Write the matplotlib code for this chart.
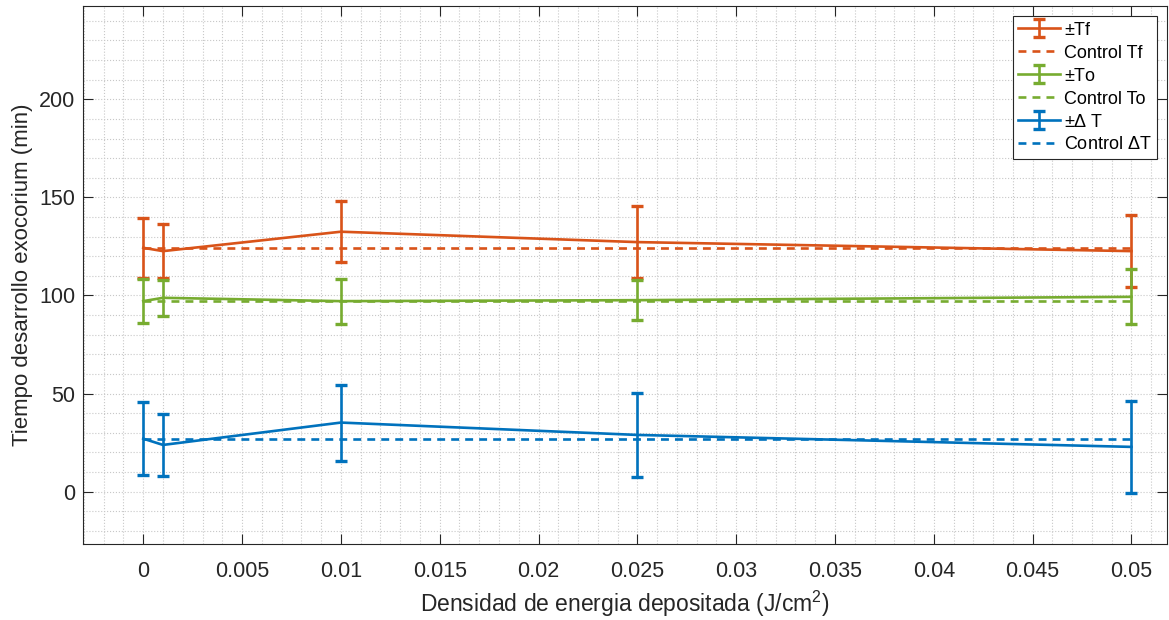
import numpy as np
import matplotlib.pyplot as plt
from matplotlib.ticker import MultipleLocator

plt.rcParams['font.family'] = ['Liberation Sans', 'DejaVu Sans']
plt.rcParams['mathtext.fontset'] = 'custom'
plt.rcParams['mathtext.rm'] = 'Liberation Sans'

# densidad de energia (J/cm2)
densidad = [0, 0.001, 0.01, 0.025, 0.05]

# tiempos medios y desviaciones (min)
tf = [124.3, 122.6, 132.5, 127.2, 122.6]
tf_err = [15.2, 13.8, 15.4, 18.4, 18.2]
to = [97.1, 98.8, 97.1, 97.6, 99.3]
to_err = [11.3, 9.2, 11.5, 10.2, 14.0]
dt = [27.0, 23.8, 35.2, 28.9, 22.8]
dt_err = [18.5, 16.0, 19.4, 21.6, 23.5]

# controles
control_tf = 124.3
control_to = 97.1
control_dt = 27.0

rojo = '#D95319'
verde = '#77AC30'
azul = '#0072BD'
gris = '#262626'

fig = plt.figure(figsize=(11.69, 6.2), dpi=100)
ax = fig.add_axes([0.0713, 0.1226, 0.927, 0.8672])

x_ctrl = [densidad[0], densidad[-1]]
series = [
    (tf, tf_err, control_tf, rojo, r'$\pm$Tf', 'Control Tf'),
    (to, to_err, control_to, verde, r'$\pm$To', 'Control To'),
    (dt, dt_err, control_dt, azul, r'$\pm\Delta$ T', r'Control $\Delta$T'),
]
handles = []
for y, err, ctrl, c, lab, lab_c in series:
    eb = ax.errorbar(densidad, y, yerr=err, color=c, lw=1.9, elinewidth=1.9,
                     capsize=4, capthick=2.4, label=lab)
    ln, = ax.plot(x_ctrl, [ctrl, ctrl], color=c, lw=1.9, dashes=(3.0, 2.3), label=lab_c)
    handles += [eb, ln]

ax.set_xlim(-0.00303, 0.0518)
ax.set_ylim(-26.7, 247.4)
ax.set_xticks([0, 0.005, 0.01, 0.015, 0.02, 0.025, 0.03, 0.035, 0.04, 0.045, 0.05])
ax.set_xticklabels(['0', '0.005', '0.01', '0.015', '0.02', '0.025', '0.03',
                    '0.035', '0.04', '0.045', '0.05'])
ax.set_yticks([0, 50, 100, 150, 200])
ax.xaxis.set_minor_locator(MultipleLocator(0.001))
ax.yaxis.set_minor_locator(MultipleLocator(10))

ax.grid(which='both', color='#c8c8c8', linestyle=':', lw=0.8)
ax.set_axisbelow(True)
ax.tick_params(which='major', direction='in', length=7, width=0.8, colors=gris,
               labelsize=15.5, top=True, right=True)
ax.tick_params(axis='x', pad=12)
ax.tick_params(axis='y', pad=6)
ax.tick_params(which='minor', length=0)
for s in ax.spines.values():
    s.set_color(gris)
    s.set_linewidth(0.8)

ax.set_xlabel('Densidad de energia depositada (J/cm$^2$)', fontsize=16.5, color=gris, labelpad=5)
ax.set_ylabel('Tiempo desarrollo exocorium (min)', fontsize=16, color=gris, labelpad=4)

leg = ax.legend(handles=handles, loc='upper right', fontsize=13, fancybox=False,
                framealpha=1, edgecolor=gris, handlelength=2.3, handletextpad=0.25,
                borderaxespad=0.55, borderpad=0.3, labelspacing=0.33)
leg.get_frame().set_linewidth(0.8)

fig.savefig('out.png', dpi=100)
